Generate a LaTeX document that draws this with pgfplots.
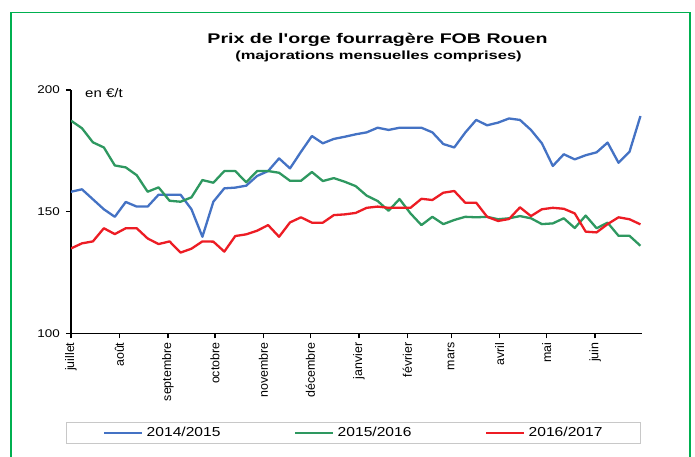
\documentclass[border=0pt]{standalone}
\usepackage{fontspec}
\setmainfont{Liberation Sans}
\newfontfamily\tfont{Liberation Sans}[FakeStretch=1.4]
\newfontfamily\sfont{Liberation Sans}[FakeStretch=1.2]
\usepackage{pgfplots}
\pgfplotsset{compat=1.18}
\usepackage{pgfplotstable}
\definecolor{cblue}{RGB}{68,114,196}
\definecolor{cgreen}{RGB}{46,152,96}
\definecolor{cred}{RGB}{237,28,36}
\definecolor{framegreen}{RGB}{0,176,80}
\definecolor{leggray}{RGB}{200,200,200}

% x = day since 1 July (weekly), y = price EUR/t
\pgfplotstableread{
x a b c
0 158.2 187.4 134.9
7 159.2 184.3 137.0
14 155.1 178.5 137.8
21 151.0 176.4 143.2
28 147.9 169.0 140.8
35 154.0 168.2 143.2
42 152.1 165.0 143.2
49 152.1 158.2 139.0
56 157.0 160.0 136.7
63 157.0 154.5 137.8
70 157.0 154.1 133.2
77 151.0 155.9 134.8
84 139.7 163.0 137.8
91 154.1 161.9 137.7
98 159.6 166.7 133.6
105 159.9 166.7 140.0
112 160.7 162.1 140.7
119 164.7 166.7 142.2
126 166.7 166.7 144.5
133 171.9 166.0 139.7
140 167.8 162.7 145.6
147 174.6 162.7 147.7
154 181.1 166.3 145.5
161 178.1 162.6 145.5
168 179.9 163.8 148.6
175 180.8 162.3 148.9
182 181.8 160.5 149.5
189 182.6 156.6 151.6
196 184.5 154.4 152.1
203 183.6 150.4 151.6
210 184.5 155.2 151.6
217 184.5 149.3 151.6
224 184.5 144.5 155.3
231 182.6 147.9 154.8
238 177.8 144.9 157.8
245 176.4 146.6 158.5
252 182.5 147.9 153.7
259 187.7 147.7 153.7
266 185.5 147.9 147.9
273 186.6 146.9 146.2
280 188.3 147.3 147.0
287 187.7 148.2 151.8
294 183.6 147.3 148.2
301 178.1 144.9 151.0
308 168.8 145.2 151.6
315 173.6 147.3 151.2
322 171.5 143.3 149.3
329 173.2 148.4 141.8
336 174.4 143.2 141.5
343 178.4 145.5 144.9
350 170.1 140.1 147.7
357 174.6 140.1 146.9
364 189.3 136.0 144.8
}\prices

\begin{document}
\begin{tikzpicture}[x=1pt,y=1pt]
\useasboundingbox (0,0) rectangle (695,456);
\fill[white] (0,0) rectangle (695,456);
\draw[framegreen, line width=1.2pt] (11,-2) -- (11,443.6) -- (690,443.6) -- (690,-2);
\node[anchor=base, inner sep=0pt, font=\tfont\bfseries\fontsize{14}{16}\selectfont] at (377.5,412.7) {Prix de l'orge fourragère FOB Rouen};
\node[anchor=base, inner sep=0pt, font=\tfont\bfseries\fontsize{11.8}{13}\selectfont] at (378.5,396.7) {(majorations mensuelles comprises)};
\node[anchor=base west, inner sep=0pt, font=\sfont\fontsize{12.5}{14}\selectfont] at (85,358.7) {en €/t};
\begin{axis}[
  at={(71pt,122.6pt)}, anchor=south west,
  scale only axis, width=571pt, height=243.4pt,
  xmin=0, xmax=365, ymin=100, ymax=200,
  axis x line*=bottom, axis y line*=left,
  axis line style={-, black, line width=1.5pt},
  xtick={0,31,62,92,123,153,184,215,243,274,304,335},
  xticklabels={juillet,août,septembre,octobre,novembre,décembre,janvier,février,mars,avril,mai,juin},
  x tick label style={rotate=90, anchor=east, inner sep=0pt, font=\fontsize{12.4}{13}\selectfont},
  xticklabel shift=4pt,
  ytick={100,150,200},
  y tick label style={inner sep=0pt, font=\sfont\fontsize{11.2}{12}\selectfont},
  yticklabel shift=6pt,
  /pgf/number format/assume math mode=true,
  tick align=outside, major tick length=5pt,
  tick style={black, line width=1.3pt},
  legend columns=3,
  legend style={at={(0.4947,-0.409)}, anchor=center, draw=leggray, line width=0.9pt,
    font=\sfont\fontsize{13}{14}\selectfont,
    /tikz/every even column/.append style={column sep=72pt},
    inner xsep=36.5pt, inner ysep=3pt,
    nodes={inner xsep=1.5pt, inner ysep=2pt}},
  legend image code/.code={\draw[#1, line width=2.2pt] (0pt,0pt) -- (38pt,0pt); \path (40pt,0pt);},
  every axis plot/.append style={line width=2.3pt, line join=round},
]
\addplot[cblue, no marks] table[x=x, y=a] {\prices};
\addlegendentry{2014/2015}
\addplot[cgreen, no marks] table[x=x, y=b] {\prices};
\addlegendentry{2015/2016}
\addplot[cred, no marks] table[x=x, y=c] {\prices};
\addlegendentry{2016/2017}
\end{axis}
\end{tikzpicture}
\end{document}
